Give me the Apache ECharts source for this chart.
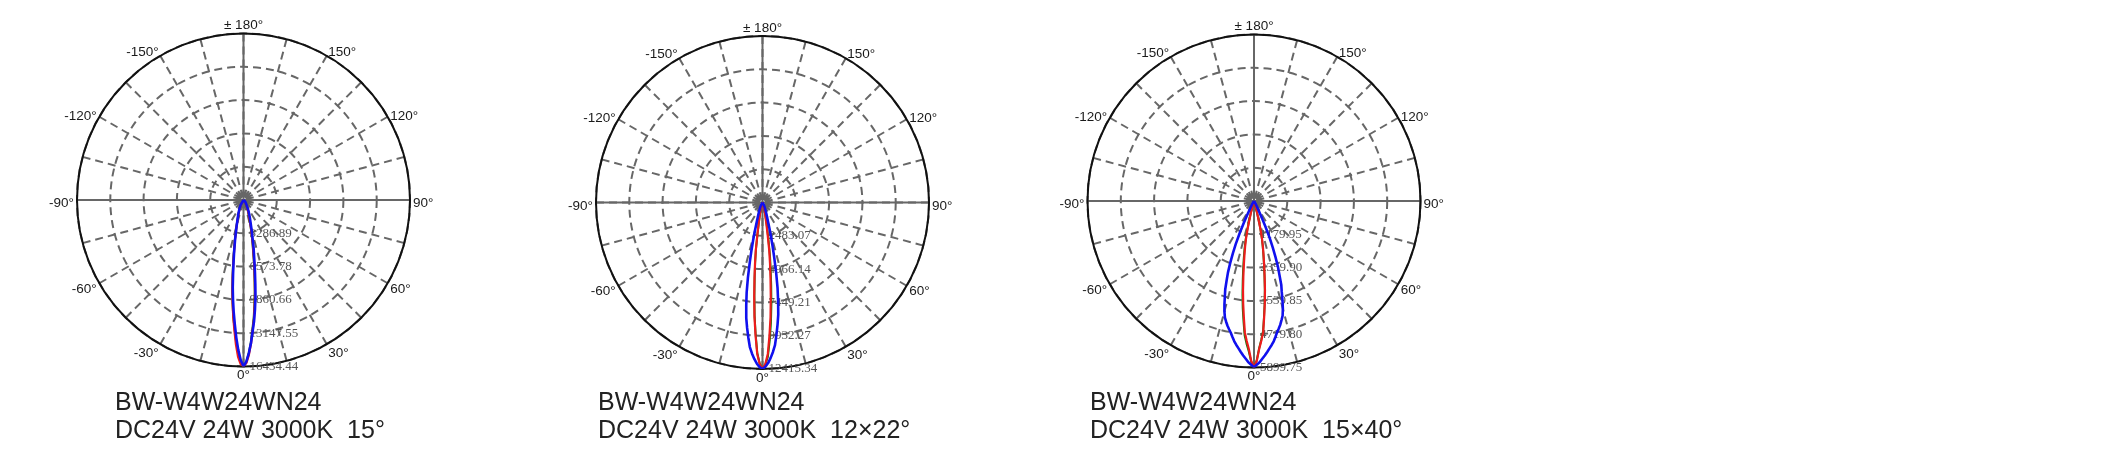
<!DOCTYPE html>
<html><head><meta charset="utf-8">
<script src="https://cdn.jsdelivr.net/npm/echarts@6/dist/echarts.min.js"></script>
<style>html,body{margin:0;padding:0;background:#fff}#c{width:2116px;height:461px}</style>
</head><body><div id="c"></div>
<script>
// ---- tick labels ----
const angleTickLabels = ['0°','30°','60°','90°','120°','150°','± 180°','-150°','-120°','-90°','-60°','-30°'];
const radiusTicks1 = ['3286.89','6573.78','9860.66','13147.55','16434.44'];
const radiusTicks2 = ['2483.07','4966.14','7449.21','9932.27','12415.34'];
const radiusTicks3 = ['1179.95','2359.90','3539.85','4719.80','5899.75'];
const maxIntensity = [16434.44, 12415.34, 5899.75];

// ---- captions ----
const captionModel = 'BW-W4W24WN24';
const captionSpecs = ['DC24V 24W 3000K  15°', 'DC24V 24W 3000K  12×22°', 'DC24V 24W 3000K  15×40°'];

// ---- chart 1 (15°) : half-angle profiles, cd ----
const halfAngles1 = [0,1,2,3,4,5,6,7,8,9,10,12,15,20,25,30,45,60,90];
const blue1Right = [16434,15950,15120,14130,12980,11990,10850,9700,8380,7230,6240,4770,3120,1810,1150,660,250,80,0];
const blue1Left  = [16434,15800,14800,13600,12300,11100,9900,8700,7400,6300,5400,4000,2600,1500,950,550,200,60,0];
const red1Right  = [16434,16100,15300,14200,12900,11800,10500,9300,8000,6900,5900,4400,2800,1500,900,500,150,40,0];
const red1Left   = [16434,16200,15500,14300,12900,11600,10300,9000,7700,6500,5500,4100,2600,1400,850,450,150,40,0];
const green1Right= [16434,16000,15100,14000,12700,11600,10300,9100,7800,6700,5700,4200,2700,1400,850,450,140,35,0];
const green1Left = [16434,16000,15100,14000,12700,11600,10300,9100,7800,6700,5700,4200,2700,1400,850,450,140,35,0];

// ---- chart 2 (12x22°) ----
const halfAngles2 = [0,1,2,3,4,5,6,7,8,9,10,11,12,13,14,15,17,20,25,30,40,60,90];
const blue2Right = [12415,12250,11980,11600,11170,10680,9930,9190,8440,7450,6460,5340,4220,3350,2610,1990,1240,740,370,190,60,10,0];
const blue2Left  = [12415,12280,12030,11680,11280,10820,10120,9420,8700,7750,6800,5700,4550,3650,2850,2200,1380,820,400,200,60,10,0];
const red2Right  = [12415,12040,11300,9930,8570,7080,5710,4590,3600,2480,1740,1300,990,800,650,500,330,190,80,0,0,0,0];
const red2Left   = [12415,12040,11300,9930,8570,7080,5710,4590,3600,2480,1740,1300,990,800,650,500,330,190,80,0,0,0,0];
const green2Right= [12415,12100,11500,10300,9000,7600,6200,5000,4000,2900,2100,1600,1200,950,750,580,380,220,90,0,0,0,0];
const green2Left = [12415,12000,11200,9800,8450,6950,5600,4500,3500,2400,1680,1250,950,770,620,480,310,180,70,0,0,0,0];

// ---- chart 3 (15x40°) ----
const halfAngles3 = [0,1,2,3,4,5,6,7,8,9,10,11,12,13,14,15,16,17,18,19,20,21,22,23,24,25,26,28,30,40,60,90];
const blue3Right = [5900,5800,5720,5600,5490,5370,5250,5140,5020,4870,4720,4600,4480,4330,4190,3950,3660,3360,3130,2770,2480,2120,1770,1420,1000,650,410,180,90,30,0,0];
const blue3Left  = [5900,5800,5720,5600,5490,5370,5250,5140,5020,4880,4740,4630,4520,4390,4260,4050,3800,3530,3300,2980,2700,2350,2000,1650,1250,850,550,250,120,30,0,0];
const red3Right  = [5900,5660,5250,4960,4660,4130,3660,3190,2710,2300,1950,1650,1360,1000,590,350,250,180,130,90,60,40,25,15,10,5,0,0,0,0,0,0];
const red3Left   = [5900,5660,5250,4960,4660,4130,3660,3190,2710,2300,1950,1650,1360,1000,590,350,250,180,130,90,60,40,25,15,10,5,0,0,0,0,0,0];
const green3Right= [5900,5640,5220,4920,4620,4090,3620,3150,2670,2260,1910,1610,1320,960,560,330,230,170,120,85,55,38,22,14,9,4,0,0,0,0,0,0];
const green3Left = [5900,5700,5330,5060,4770,4270,3820,3350,2870,2460,2100,1780,1480,1120,700,430,300,210,150,100,70,45,30,18,10,5,0,0,0,0,0,0];

// ---- build ----
function curve(half, left, right) {
  const pts = [];
  for (let i = half.length - 1; i >= 1; i--) pts.push([left[i], 360 - half[i]]);
  for (let i = 0; i < half.length; i++) pts.push([right[i], half[i]]);
  return pts;
}
const charts = [
  {cx: 243.5, cy: 200, ticks: radiusTicks1, max: maxIntensity[0], capX: 115,
   green: curve(halfAngles1, green1Left, green1Right), red: curve(halfAngles1, red1Left, red1Right), blue: curve(halfAngles1, blue1Left, blue1Right)},
  {cx: 762.5, cy: 202.5, ticks: radiusTicks2, max: maxIntensity[1], capX: 598,
   green: curve(halfAngles2, green2Left, green2Right), red: curve(halfAngles2, red2Left, red2Right), blue: curve(halfAngles2, blue2Left, blue2Right)},
  {cx: 1254, cy: 201, ticks: radiusTicks3, max: maxIntensity[2], capX: 1090,
   green: curve(halfAngles3, green3Left, green3Right), red: curve(halfAngles3, red3Left, red3Right), blue: curve(halfAngles3, blue3Left, blue3Right)}
];
const R = 166.5;
const GRID = '#676767';
const LBL = {fontSize: 13.5, color: '#1a1a1a', fontFamily: 'Liberation Sans, Arial, sans-serif', lineHeight: 2};
// which rich style each angle label uses (vertical placement around the circle)
const labelStyleKey = ['d','d','s','m','k','n','u','n','k','m','s','d'];
const polar = [], angleAxis = [], radiusAxis = [], series = [], title = [];
charts.forEach((c, k) => {
  polar.push({center: [c.cx, c.cy], radius: [0, R]});
  const step = c.max / 5;
  angleAxis.push({
    polarIndex: k, type: 'value', min: 0, max: 360, interval: 15, startAngle: 270, clockwise: false,
    axisLine: {show: true, lineStyle: {color: '#111', width: 2}},
    axisTick: {show: false},
    splitLine: {show: true, lineStyle: {color: GRID, width: 2, type: [8, 5]}},
    axisLabel: {show: true, margin: 3, ...LBL,
      rich: {
        d: {...LBL, padding: [10, 0, 0, 0]},
        s: {...LBL, padding: [7, 0, 0, 0]},
        m: {...LBL, padding: [7, 0, 0, 0]},
        k: {...LBL, padding: [4, 0, 0, 0]},
        n: {...LBL},
        u: {...LBL, padding: [0, 0, 8, 0]}
      },
      formatter: v => {
        if (v % 30 !== 0 || v >= 360) return '';
        const i = v / 30;
        return '{' + labelStyleKey[i] + '|' + angleTickLabels[i] + '}';
      }}
  });
  radiusAxis.push({
    polarIndex: k, type: 'value', min: 0, max: c.max, interval: step,
    axisLine: {show: false}, axisTick: {show: false},
    splitLine: {show: true, lineStyle: {color: GRID, width: 2, type: [8, 5]}},
    axisLabel: {show: true, inside: true, margin: 6, fontSize: 13, color: '#555',
      fontFamily: 'Liberation Serif, Times New Roman, serif',
      formatter: v => { const i = Math.round(v / step); return i === 0 ? '' : c.ticks[i - 1]; }}
  });
  series.push({type: 'line', coordinateSystem: 'polar', polarIndex: k, data: c.green, symbol: 'none', smooth: false,
    lineStyle: {color: '#0a7d0a', width: 2}, z: 3});
  series.push({type: 'line', coordinateSystem: 'polar', polarIndex: k, data: c.red, symbol: 'none', smooth: false,
    lineStyle: {color: '#ee1c1c', width: 2.2}, z: 4});
  series.push({type: 'line', coordinateSystem: 'polar', polarIndex: k, data: c.blue, symbol: 'none', smooth: false,
    lineStyle: {color: '#1010ee', width: 2.6}, z: 5});
  title.push({text: captionModel + '\n' + captionSpecs[k], left: c.capX, top: 389, padding: 0,
    textStyle: {fontSize: 25, lineHeight: 28, fontWeight: 'normal', color: '#222', fontFamily: 'Liberation Sans, Arial, sans-serif'}});
});
// solid cross lines (0°/180°, ±90°)
charts.forEach((c, k) => {
  polar.push({center: [c.cx, c.cy], radius: [0, R]});
  angleAxis.push({
    polarIndex: 3 + k, type: 'value', min: 0, max: 360, interval: 90, startAngle: 270, clockwise: false,
    axisLine: {show: false}, axisTick: {show: false}, axisLabel: {show: false},
    splitLine: {show: true, lineStyle: {color: GRID, width: 2, type: 'solid'}}
  });
  radiusAxis.push({polarIndex: 3 + k, type: 'value', min: 0, max: c.max, show: false, splitLine: {show: false}});
});
const chart = echarts.init(document.getElementById('c'), null, {renderer: 'canvas'});
chart.setOption({animation: false, backgroundColor: '#fff', title, polar, angleAxis, radiusAxis, series});
</script></body></html>
